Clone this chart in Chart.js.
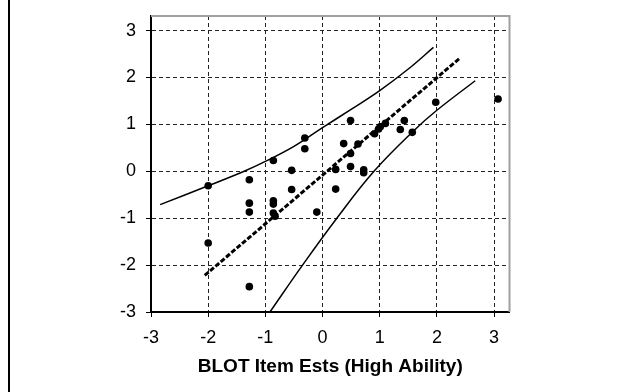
<!DOCTYPE html>
<html>
<head>
<meta charset="utf-8">
<script src="https://cdn.jsdelivr.net/npm/chart.js@4"></script>
<style>
  body { margin: 0; background: #fff; }
  #wrap { position: relative; width: 623px; height: 392px; }
  #edge { position: absolute; left: 8px; top: 0; width: 2px; height: 392px; background: #000; }
</style>
</head>
<body>
<div id="wrap">
  <canvas id="myChart" width="623" height="392"></canvas>
  <div id="edge"></div>
</div>
<script>
'use strict';

// item estimates (x = high ability, y = other group)
var itemX = [-2.00, -2.00, -1.28, -1.28, -1.28, -1.28, -0.86, -0.86, -0.86, -0.86, -0.83,
             -0.54, -0.54, -0.31, -0.31, -0.10, 0.23, 0.23, 0.37, 0.49, 0.49, 0.49, 0.62,
             0.72, 0.72, 0.91, 0.98, 1.01, 1.10, 1.36, 1.43, 1.57, 1.98, 3.07];
var itemY = [-0.31, -1.53, -0.18, -0.68, -0.87, -2.46, 0.23, -0.63, -0.70, -0.89, -0.96,
             0.02, -0.39, 0.71, 0.48, -0.87, 0.04, -0.38, 0.59, 1.08, 0.38, 0.10, 0.58,
             0.03, -0.03, 0.80, 0.90, 0.95, 1.02, 0.89, 1.08, 0.83, 1.47, 1.54];

// trend line (dashed)
var trendX = [-2.06, 2.40];
var trendY = [-2.22, 2.41];

// upper control band
var upperX = [-2.84, -2.00, -1.37, -1.00, -0.50, 0.00, 0.50, 1.00, 1.50, 1.94];
var upperY = [-0.71, -0.31, 0.00, 0.21, 0.53, 0.93, 1.32, 1.72, 2.18, 2.64];

// lower control band
var lowerX = [-0.92, -0.35, 0.25, 0.90, 1.60, 2.00, 2.67];
var lowerY = [-3.00, -2.00, -1.00, 0.00, 0.87, 1.30, 1.93];

var xTicks = [-3, -2, -1, 0, 1, 2, 3];
var yTicks = [-3, -2, -1, 0, 1, 2, 3];
var xTitle = 'BLOT Item Ests (High Ability)';

function pairs(xs, ys) {
    return xs.map(function(x, i) { return { x: x, y: ys[i] }; });
}

// grey frame on top and right of the plot
var framePlugin = {
    id: 'frame',
    afterDraw: function(chart) {
        var a = chart.chartArea;
        var ctx = chart.ctx;
        ctx.save();
        ctx.strokeStyle = '#a0a0a0';
        ctx.lineWidth = 2;
        ctx.beginPath();
        ctx.moveTo(a.left, a.top);
        ctx.lineTo(a.right, a.top);
        ctx.lineTo(a.right, a.bottom);
        ctx.stroke();
        ctx.restore();
    }
};

var tickFont = { family: 'Liberation Sans, Arial, sans-serif', size: 18 };

var ctx = document.getElementById('myChart').getContext('2d');
var chart = new Chart(ctx, {
    type: 'scatter',
    data: {
        datasets: [{
            data: pairs(itemX, itemY),
            backgroundColor: '#000',
            borderWidth: 0,
            pointRadius: 3.8,
            pointHoverRadius: 3.8
        }, {
            data: pairs(trendX, trendY),
            showLine: true,
            borderColor: '#000',
            borderWidth: 3,
            borderDash: [5, 2],
            pointRadius: 0
        }, {
            data: pairs(upperX, upperY),
            showLine: true,
            borderColor: '#000',
            borderWidth: 1.5,
            tension: 0.4,
            pointRadius: 0
        }, {
            data: pairs(lowerX, lowerY),
            showLine: true,
            borderColor: '#000',
            borderWidth: 1.5,
            tension: 0.4,
            pointRadius: 0
        }]
    },
    options: {
        responsive: false,
        animation: false,
        devicePixelRatio: 1,
        layout: { padding: { left: 0, top: 16, right: 113.5, bottom: 0 } },
        plugins: { legend: { display: false }, tooltip: { enabled: false } },
        scales: {
            x: {
                type: 'linear',
                min: -3,
                max: 3.27,
                afterBuildTicks: function(scale) {
                    scale.ticks = xTicks.map(function(v) { return { value: v }; });
                },
                afterFit: function(scale) {
                    scale.height = 80;
                    scale.paddingLeft = 0;
                    scale.paddingRight = 0;
                },
                grid: {
                    color: '#222',
                    lineWidth: 1,
                    tickColor: '#000',
                    tickLength: 5,
                    tickBorderDash: []
                },
                border: { color: '#000', width: 2, dash: [4, 3] },
                ticks: {
                    color: '#000',
                    padding: 10,
                    maxRotation: 0,
                    font: tickFont
                },
                title: {
                    display: true,
                    text: xTitle,
                    color: '#000',
                    padding: { top: 0, bottom: 14 },
                    font: { family: 'Liberation Sans, Arial, sans-serif', size: 19, weight: 'bold' }
                }
            },
            y: {
                type: 'linear',
                min: -3,
                max: 3.31,
                afterBuildTicks: function(scale) {
                    scale.ticks = yTicks.map(function(v) { return { value: v }; });
                },
                afterFit: function(scale) {
                    scale.width = 151;
                    scale.paddingTop = 0;
                    scale.paddingBottom = 0;
                },
                grid: {
                    color: '#222',
                    lineWidth: 1,
                    tickColor: '#000',
                    tickLength: 5,
                    tickBorderDash: []
                },
                border: { color: '#000', width: 2, dash: [4, 3] },
                ticks: {
                    color: '#000',
                    padding: 10,
                    font: tickFont
                }
            }
        }
    },
    plugins: [framePlugin]
});
</script>
</body>
</html>
